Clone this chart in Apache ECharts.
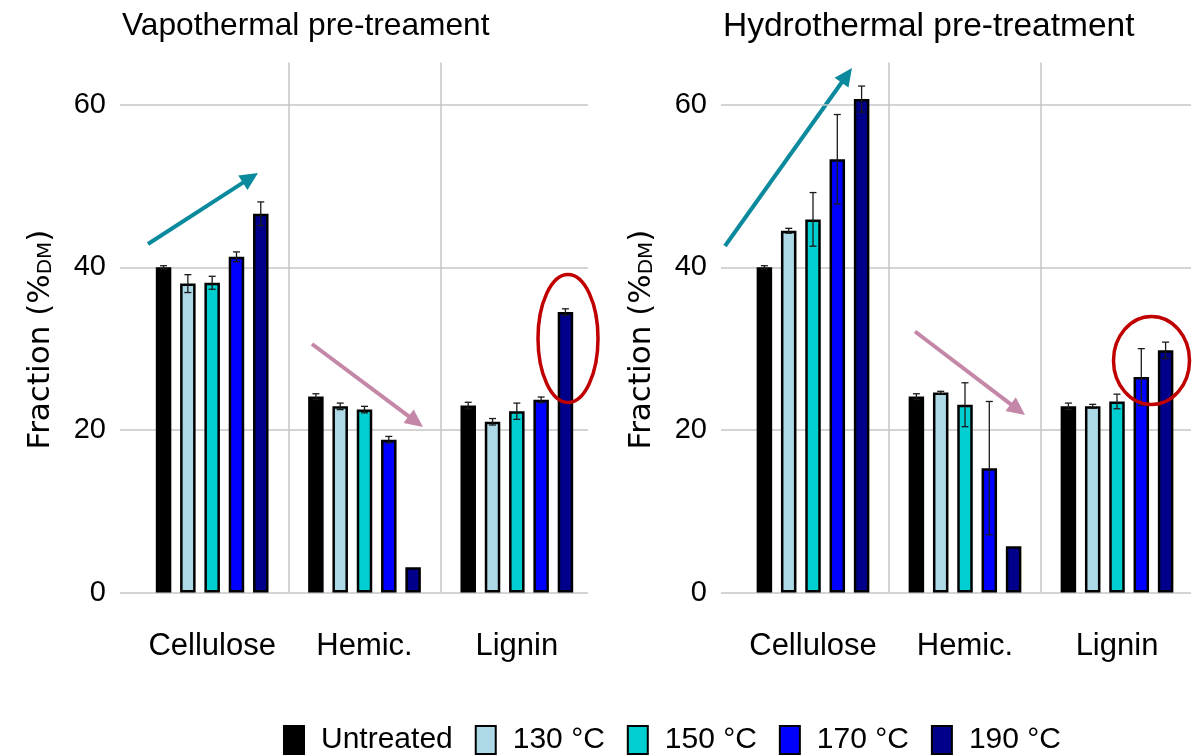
<!DOCTYPE html>
<html>
<head>
<meta charset="utf-8">
<script src="https://cdn.jsdelivr.net/npm/echarts@6/dist/echarts.min.js"></script>
<style>
  html, body { margin: 0; padding: 0; background: #ffffff; }
  #chart { width: 1199px; height: 756px; }
</style>
</head>
<body>
<div id="chart"></div>
<script>
// Fractions of dry matter (%) per component and pre-treatment temperature
const categories = ['Cellulose', 'Hemic.', 'Lignin'];
const groupNames = ['Untreated', '130 °C', '150 °C', '170 °C', '190 °C'];
const panelTitles = ['Vapothermal pre-treament', 'Hydrothermal pre-treatment'];

// Vapothermal: means
const vapoUntreated = [40.0, 24.1, 23.0];
const vapo130 = [38.0, 22.9, 21.0];
const vapo150 = [38.1, 22.5, 22.3];
const vapo170 = [41.3, 18.8, 23.7];
const vapo190 = [46.6, 3.1, 34.5];
// Vapothermal: standard deviations
const vapoUntreatedErr = [0.2, 0.35, 0.4];
const vapo130Err = [1.1, 0.4, 0.4];
const vapo150Err = [0.8, 0.4, 1.0];
const vapo170Err = [0.6, 0.4, 0.35];
const vapo190Err = [1.45, 0, 0.4];

// Hydrothermal: means
const hydroUntreated = [40.0, 24.1, 22.9];
const hydro130 = [44.5, 24.6, 22.9];
const hydro150 = [45.9, 23.1, 23.5];
const hydro170 = [53.3, 15.3, 26.5];
const hydro190 = [60.7, 5.7, 29.8];
// Hydrothermal: standard deviations
const hydroUntreatedErr = [0.2, 0.35, 0.4];
const hydro130Err = [0.3, 0.15, 0.25];
const hydro150Err = [3.3, 2.7, 0.9];
const hydro170Err = [5.5, 8.2, 3.5];
const hydro190Err = [1.6, 0, 1.0];

const yMin = 0;
const yMax = 65.2;
const yInterval = 20;

const groupColors = ['#000000', '#ADD8E6', '#00CED1', '#0000FF', '#00008B'];
const FONT = '"Liberation Sans", Arial, Helvetica, sans-serif';
const NAME_FONT = '"DejaVu Sans", "Liberation Sans", Arial, sans-serif';
const GRID_COLOR = '#C6C6C6';
const BAR_WIDTH = 15.5;
const BAR_GAP = 0.568;
const BAR_STEP = BAR_WIDTH * (1 + BAR_GAP);

const panels = [
  {
    title: panelTitles[0], titleSize: 31.7,
    means: [vapoUntreated, vapo130, vapo150, vapo170, vapo190],
    errs: [vapoUntreatedErr, vapo130Err, vapo150Err, vapo170Err, vapo190Err],
    lineLeft: 120, lineRight: 611, barLeft: 136, barRight: 606
  },
  {
    title: panelTitles[1], titleSize: 33.5,
    means: [hydroUntreated, hydro130, hydro150, hydro170, hydro190],
    errs: [hydroUntreatedErr, hydro130Err, hydro150Err, hydro170Err, hydro190Err],
    lineLeft: 721, lineRight: 8, barLeft: 737, barRight: 6
  }
];

const TOP = 62.5;
const BOTTOM = 163.5;

const grids = [], xAxes = [], yAxes = [], series = [], titles = [];

panels.forEach(function (p, pi) {
  const gLines = pi * 2, gBars = pi * 2 + 1;
  // Grid carrying the horizontal gridlines and the value labels
  grids.push({ left: p.lineLeft, right: p.lineRight, top: TOP, bottom: BOTTOM });
  // Grid carrying the bars
  grids.push({ left: p.barLeft, right: p.barRight, top: TOP, bottom: BOTTOM });

  titles.push({
    text: p.title, left: p.lineLeft - 3, top: 5,
    textStyle: { fontFamily: FONT, fontSize: p.titleSize, fontWeight: 'normal', color: '#000' }
  });

  xAxes.push({ gridIndex: gLines, type: 'value', min: 0, max: 1, show: false });
  xAxes.push({
    gridIndex: gBars, type: 'category', data: categories,
    axisLine: { show: false }, axisTick: { show: false },
    axisLabel: { fontFamily: FONT, fontSize: 31, color: '#000', margin: 38, interval: 0 },
    splitLine: { show: true, interval: 0, showMinLine: false, showMaxLine: false,
      lineStyle: { color: GRID_COLOR, width: 1.5 } }
  });

  yAxes.push({
    gridIndex: gLines, type: 'value', min: yMin, max: yMax, interval: yInterval,
    axisLine: { show: false }, axisTick: { show: false },
    axisLabel: { fontFamily: FONT, fontSize: 29, color: '#000', margin: 14, showMaxLabel: false },
    splitLine: { show: true, showMaxLine: false, lineStyle: { color: GRID_COLOR, width: 1.5 } },
    name: '{a|Fraction (%}{b|DM}{a|)}',
    nameLocation: 'middle', nameGap: 64, nameRotate: 90,
    nameTextStyle: {
      color: '#000',
      padding: [0, 24, 0, 0],
      rich: {
        a: { fontFamily: NAME_FONT, fontSize: 31, color: '#000', lineHeight: 36, verticalAlign: 'bottom' },
        b: { fontFamily: NAME_FONT, fontSize: 20, color: '#000', lineHeight: 23, verticalAlign: 'bottom' }
      }
    }
  });
  yAxes.push({ gridIndex: gBars, type: 'value', min: yMin, max: yMax, interval: yInterval, show: false });

  p.means.forEach(function (vals, gi) {
    series.push({
      type: 'bar', name: groupNames[gi],
      xAxisIndex: gBars, yAxisIndex: gBars,
      data: vals, barWidth: BAR_WIDTH, barGap: (BAR_GAP * 100) + '%',
      itemStyle: { color: groupColors[gi], borderColor: '#000', borderWidth: 2.5 },
      emphasis: { disabled: true }
    });
  });

  // Error bars: [category, low, high, group]
  const errData = [];
  p.means.forEach(function (vals, gi) {
    vals.forEach(function (v, ci) {
      const e = p.errs[gi][ci];
      if (e > 0) errData.push([ci, v - e, v + e, gi]);
    });
  });
  series.push({
    type: 'custom', name: 'sd-' + pi,
    xAxisIndex: gBars, yAxisIndex: gBars, z: 5,
    data: errData,
    encode: { x: 0, y: [1, 2] },
    renderItem: function (params, api) {
      const ci = api.value(0), lo = api.value(1), hi = api.value(2), gi = api.value(3);
      const pLo = api.coord([ci, lo]);
      const pHi = api.coord([ci, hi]);
      const x = pLo[0] + (gi - 2) * BAR_STEP;
      const cap = 3.5;
      const st = { stroke: '#1a1a1a', lineWidth: 1.3 };
      return {
        type: 'group', children: [
          { type: 'line', shape: { x1: x, y1: pLo[1], x2: x, y2: pHi[1] }, style: st },
          { type: 'line', shape: { x1: x - cap, y1: pHi[1], x2: x + cap, y2: pHi[1] }, style: st },
          { type: 'line', shape: { x1: x - cap, y1: pLo[1], x2: x + cap, y2: pLo[1] }, style: st }
        ]
      };
    }
  });
});

// Trend arrows and highlight ellipses
function arrow(x1, y1, x2, y2, color) {
  const dx = x2 - x1, dy = y2 - y1;
  const len = Math.sqrt(dx * dx + dy * dy);
  const ux = dx / len, uy = dy / len;
  const headLen = 18, headHalf = 8.5;
  const bx = x2 - ux * headLen, by = y2 - uy * headLen;
  return {
    type: 'group', z: 100, children: [
      { type: 'line', shape: { x1: x1, y1: y1, x2: bx + ux * 2, y2: by + uy * 2 },
        style: { stroke: color, lineWidth: 4 } },
      { type: 'polygon', shape: { points: [[x2, y2], [bx - uy * headHalf, by + ux * headHalf], [bx + uy * headHalf, by - ux * headHalf]] },
        style: { fill: color } }
    ]
  };
}
function ring(cx, cy, rx, ry) {
  return { type: 'ellipse', z: 100, shape: { cx: cx, cy: cy, rx: rx, ry: ry },
    style: { fill: 'none', stroke: '#C00000', lineWidth: 3.5 } };
}
const TEAL = '#0A8A9C';
const MAUVE = '#C487A8';

const chart = echarts.init(document.getElementById('chart'), null, { renderer: 'canvas' });
chart.setOption({
  backgroundColor: '#ffffff',
  animation: false,
  title: titles,
  grid: grids,
  xAxis: xAxes,
  yAxis: yAxes,
  legend: {
    data: groupNames, left: 278, top: 720,
    icon: 'rect', itemWidth: 20, itemHeight: 28, itemGap: 22,
    selectedMode: false,
    textStyle: { fontFamily: FONT, fontSize: 30, color: '#000', padding: [0, 0, 0, 12] }
  },
  series: series,
  graphic: [
    arrow(148, 244, 258, 173, TEAL),
    arrow(312, 344, 423, 427, MAUVE),
    ring(568, 338.5, 30, 64),
    arrow(725, 246, 852, 68, TEAL),
    arrow(915, 331.5, 1025, 415, MAUVE),
    ring(1151.5, 360.5, 38, 44)
  ]
});
</script>
</body>
</html>
